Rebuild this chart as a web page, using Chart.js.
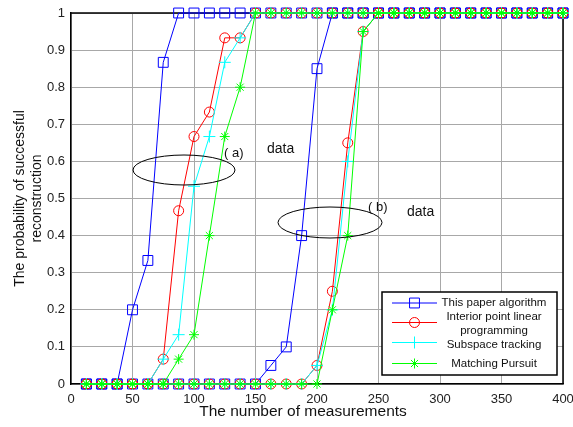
<!DOCTYPE html>
<html>
<head>
<meta charset="utf-8">
<script src="https://cdn.jsdelivr.net/npm/chart.js@4.4.1/dist/chart.umd.min.js"></script>
<style>
  html, body { margin: 0; padding: 0; background: #fff; }
  #wrap { width: 573px; height: 427px; }
</style>
</head>
<body>
<div id="wrap"><canvas id="chart"></canvas></div>
<script>
// number of measurements (x positions of the markers)
const measurements = [12.5, 25, 37.5, 50, 62.5, 75, 87.5, 100, 112.5, 125, 137.5, 150,
  162.5, 175, 187.5, 200, 212.5, 225, 237.5, 250, 262.5, 275, 287.5, 300,
  312.5, 325, 337.5, 350, 362.5, 375, 387.5, 400];

// group (a)
const paperA    = [0, 0, 0, 0.2, 0.333, 0.867, 1, 1, 1, 1, 1, 1, 1, 1, 1, 1, 1, 1, 1, 1, 1, 1, 1, 1, 1, 1, 1, 1, 1, 1, 1, 1];
const interiorA = [0, 0, 0, 0, 0, 0.067, 0.467, 0.667, 0.733, 0.933, 0.933, 1, 1, 1, 1, 1, 1, 1, 1, 1, 1, 1, 1, 1, 1, 1, 1, 1, 1, 1, 1, 1];
const subspaceA = [0, 0, 0, 0, 0, 0.067, 0.133, 0.533, 0.667, 0.867, 0.933, 1, 1, 1, 1, 1, 1, 1, 1, 1, 1, 1, 1, 1, 1, 1, 1, 1, 1, 1, 1, 1];
const matchingA = [0, 0, 0, 0, 0, 0, 0.067, 0.133, 0.4, 0.667, 0.8, 1, 1, 1, 1, 1, 1, 1, 1, 1, 1, 1, 1, 1, 1, 1, 1, 1, 1, 1, 1, 1];

// group (b)
const paperB    = [0, 0, 0, 0, 0, 0, 0, 0, 0, 0, 0, 0, 0.05, 0.1, 0.4, 0.85, 1, 1, 1, 1, 1, 1, 1, 1, 1, 1, 1, 1, 1, 1, 1, 1];
const interiorB = [0, 0, 0, 0, 0, 0, 0, 0, 0, 0, 0, 0, 0, 0, 0, 0.05, 0.25, 0.65, 0.95, 1, 1, 1, 1, 1, 1, 1, 1, 1, 1, 1, 1, 1];
const subspaceB = [0, 0, 0, 0, 0, 0, 0, 0, 0, 0, 0, 0, 0, 0, 0, 0.05, 0.2, 0.6, 0.95, 1, 1, 1, 1, 1, 1, 1, 1, 1, 1, 1, 1, 1];
const matchingB = [0, 0, 0, 0, 0, 0, 0, 0, 0, 0, 0, 0, 0, 0, 0, 0, 0.2, 0.4, 0.95, 1, 1, 1, 1, 1, 1, 1, 1, 1, 1, 1, 1, 1];

const legendNames = ['This paper algorithm', ['Interior point linear', 'programming'], 'Subspace tracking', 'Matching Pursuit'];

const FONT = '"Liberation Sans", Arial, sans-serif';

const styles = [
  { color: '#0000ff', pointStyle: 'rect', radius: 7, order: 3 },
  { color: '#ff0000', pointStyle: 'circle', radius: 5, order: 2 },
  { color: '#00ffff', pointStyle: 'cross', radius: 6, order: 1 },
  { color: '#00ff00', pointStyle: 'star', radius: 5, order: 0 }
];

function makeSet(values, s) {
  return {
    data: measurements.map((m, i) => ({ x: m, y: values[i] })),
    borderColor: s.color,
    borderWidth: 1,
    pointStyle: s.pointStyle,
    pointRadius: s.radius,
    pointHoverRadius: s.radius,
    pointBorderColor: s.color,
    pointBackgroundColor: 'rgba(0,0,0,0)',
    pointBorderWidth: 1,
    order: s.order,
    clip: false,
    tension: 0
  };
}

const datasets = [
  makeSet(paperA, styles[0]), makeSet(paperB, styles[0]),
  makeSet(interiorA, styles[1]), makeSet(interiorB, styles[1]),
  makeSet(subspaceA, styles[2]), makeSet(subspaceB, styles[2]),
  makeSet(matchingA, styles[3]), makeSet(matchingB, styles[3])
];

// frame, annotations and legend
const extras = {
  id: 'extras',
  beforeDatasetsDraw(chart) {
    const { ctx, chartArea: a } = chart;
    ctx.save();
    ctx.strokeStyle = '#000';
    ctx.lineWidth = 1.5;
    ctx.beginPath();
    ctx.moveTo(a.left, a.top);
    ctx.lineTo(a.right, a.top);
    ctx.lineTo(a.right, a.bottom);
    ctx.stroke();
    ctx.restore();
  },
  afterDatasetsDraw(chart) {
    const { ctx } = chart;
    ctx.save();
    // ellipses
    ctx.strokeStyle = '#000';
    ctx.lineWidth = 1;
    ctx.beginPath();
    ctx.ellipse(184, 170, 51, 15, 0, 0, Math.PI * 2);
    ctx.stroke();
    ctx.beginPath();
    ctx.ellipse(330, 222.5, 52, 15.5, 0, 0, Math.PI * 2);
    ctx.stroke();

    ctx.fillStyle = '#111';
    ctx.textBaseline = 'middle';
    ctx.textAlign = 'left';
    ctx.font = '13px ' + FONT;
    ctx.fillText('( a)', 224, 153);
    ctx.fillText('( b)', 368, 207);
    ctx.font = '14px ' + FONT;
    ctx.fillText('data', 267, 149);
    ctx.fillText('data', 407, 212);

    // legend box
    const bx = 382, by = 292, bw = 175, bh = 83;
    ctx.fillStyle = '#fff';
    ctx.fillRect(bx, by, bw, bh);
    ctx.strokeStyle = '#000';
    ctx.lineWidth = 1.5;
    ctx.strokeRect(bx, by, bw, bh);

    const lineYs = [303, 322.5, 342.5, 363.5];
    const textYs = [[303], [317, 331], [345], [364]];
    ctx.font = '11.5px ' + FONT;
    ctx.textAlign = 'center';
    legendNames.forEach((name, i) => {
      const s = styles[i];
      const y = lineYs[i];
      ctx.strokeStyle = s.color;
      ctx.lineWidth = 1;
      ctx.beginPath();
      ctx.moveTo(392, y);
      ctx.lineTo(437, y);
      ctx.stroke();
      ctx.fillStyle = 'rgba(0,0,0,0)';
      ctx.strokeStyle = s.color;
      Chart.helpers.drawPoint(ctx, { pointStyle: s.pointStyle, radius: s.radius, borderWidth: 1 }, 414.5, y);
      ctx.fillStyle = '#111';
      const lines = Array.isArray(name) ? name : [name];
      lines.forEach((t, j) => ctx.fillText(t, 494, textYs[i][j]));
    });

    // x axis title
    ctx.font = '15.5px ' + FONT;
    ctx.fillStyle = '#111';
    ctx.textAlign = 'center';
    ctx.fillText('The number of measurements', 303, 412);
    ctx.restore();
  }
};

new Chart(document.getElementById('chart'), {
  type: 'line',
  data: { datasets: datasets },
  options: {
    responsive: true,
    maintainAspectRatio: false,
    animation: false,
    layout: { padding: { left: 0, right: 10, top: 13, bottom: 0 } },
    plugins: { legend: { display: false }, tooltip: { enabled: false } },
    scales: {
      x: {
        type: 'linear',
        min: 0,
        max: 400,
        ticks: { stepSize: 50, color: '#222', font: { family: FONT, size: 13 }, padding: 8, maxRotation: 0 },
        grid: { color: '#a8a8a8', lineWidth: 1, drawTicks: false },
        border: { color: '#000', width: 1.5 },
        afterFit(scale) {
          scale.height = 43;
          scale.paddingRight = 0;
          scale.paddingLeft = 0;
        }
      },
      y: {
        min: 0,
        max: 1,
        ticks: {
          stepSize: 0.1, color: '#222', font: { family: FONT, size: 13 }, padding: 6,
          callback: (v) => String(Math.round(v * 10) / 10)
        },
        grid: { color: '#a8a8a8', lineWidth: 1, drawTicks: false },
        border: { color: '#000', width: 1.5 },
        title: {
          display: true,
          text: ['The probability of successful', 'reconstruction'],
          color: '#111',
          font: { family: FONT, size: 14 },
          padding: { top: 12, bottom: 0 }
        },
        afterFit(scale) {
          scale.width = 71;
          scale.paddingTop = 0;
          scale.paddingBottom = 0;
        }
      }
    }
  },
  plugins: [extras]
});
</script>
</body>
</html>
